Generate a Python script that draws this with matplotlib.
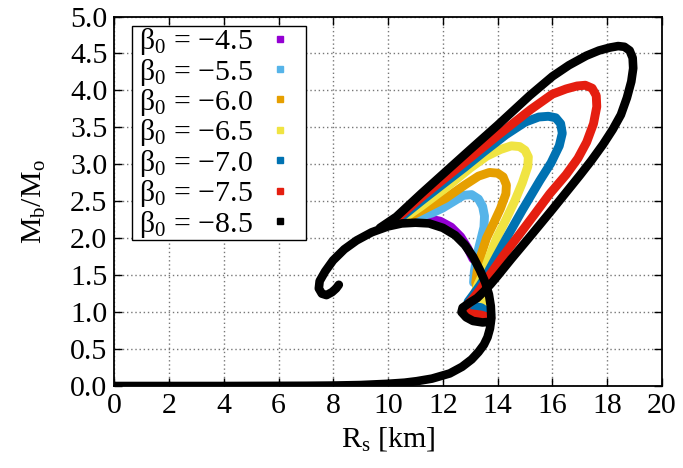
import matplotlib
matplotlib.use("Agg")
import matplotlib.pyplot as plt
from matplotlib.lines import Line2D

plt.rcParams['font.family'] = ['Liberation Serif', 'DejaVu Serif']
plt.rcParams['mathtext.fontset'] = 'custom'
plt.rcParams['mathtext.rm'] = 'Liberation Serif'
plt.rcParams['mathtext.it'] = 'Liberation Serif:italic'
FS = 21.5
plt.rcParams['font.size'] = FS

# ---- data ----
labels = [" β$_0$ = −4.5", " β$_0$ = −5.5", " β$_0$ = −6.0", " β$_0$ = −6.5",
          " β$_0$ = −7.0", " β$_0$ = −7.5", " β$_0$ = −8.5"]
colors = ["#9400d3", "#56b4e9", "#e69f00", "#f0e442", "#0072b2", "#e51e10", "#000000"]

# GR branch (shared by all, drawn with the last series)
gr_R = [0.0, 4.0, 7.0, 8.0, 9.0, 10.0, 10.6, 11.04, 11.6, 12.25, 12.7, 13.05, 13.3,
        13.5, 13.63, 13.72, 13.77, 13.75, 13.68, 13.55, 13.35, 13.1, 12.8, 12.45,
        12.0, 11.5, 11.0, 10.5, 10.0, 9.4, 8.85, 8.4, 7.99, 7.7, 7.5, 7.47, 7.58,
        7.75, 7.95, 8.1, 8.2]
gr_M = [0.0, 0.0, 0.003, 0.006, 0.013, 0.03, 0.045, 0.065, 0.10, 0.17, 0.26, 0.36,
        0.46, 0.56, 0.66, 0.78, 0.92, 1.08, 1.24, 1.40, 1.57, 1.75, 1.91, 2.04,
        2.14, 2.20, 2.21, 2.20, 2.16, 2.08, 1.97, 1.85, 1.70, 1.55, 1.42, 1.32,
        1.25, 1.23, 1.27, 1.32, 1.37]

# scalarized branches
R_45 = [10.9, 11.4, 11.9, 12.3, 12.65, 12.9, 13.1]
M_45 = [2.25, 2.27, 2.23, 2.15, 2.02, 1.87, 1.72]

R_55 = [13.12, 13.15, 13.25, 13.4, 13.5, 13.52, 13.45, 13.3, 13.05, 12.75, 12.4,
        12.0, 11.6, 11.0, 10.4]
M_55 = [1.40, 1.55, 1.78, 2.00, 2.15, 2.30, 2.43, 2.53, 2.59, 2.58, 2.50,
        2.41, 2.34, 2.28, 2.22]

R_60 = [13.25, 13.2, 13.25, 13.4, 13.59, 13.85, 14.1, 14.3, 14.32, 14.2, 14.0,
        13.7, 13.3, 12.8, 12.1, 11.2, 10.35]
M_60 = [1.32, 1.40, 1.55, 1.78, 2.00, 2.20, 2.40, 2.60, 2.72, 2.83, 2.88,
        2.89, 2.84, 2.72, 2.54, 2.37, 2.21]

R_65 = [13.72, 13.5, 13.25, 13.17, 13.28, 13.47, 13.7, 13.96, 14.3, 14.62, 14.9,
        15.1, 15.12, 15.0, 14.8, 14.5, 14.1, 13.6, 13.0, 12.1, 11.2, 10.3]
M_65 = [1.02, 1.17, 1.21, 1.26, 1.37, 1.52, 1.75, 2.00, 2.25, 2.50, 2.75,
        2.97, 3.10, 3.19, 3.24, 3.25, 3.20, 3.11, 2.95, 2.68, 2.43, 2.20]

R_70 = [13.75, 13.4, 13.0, 12.92, 13.1, 13.35, 13.59, 13.95, 14.32, 14.9, 15.54,
        15.95, 16.25, 16.36, 16.3, 16.12, 15.85, 15.5, 15.0, 14.3, 13.5, 12.8,
        12.1, 11.2, 10.3]
M_70 = [0.97, 1.06, 1.09, 1.14, 1.23, 1.36, 1.50, 1.75, 2.00, 2.38, 2.78,
        3.02, 3.25, 3.42, 3.55, 3.63, 3.65, 3.64, 3.57, 3.40, 3.17, 2.96,
        2.76, 2.50, 2.23]

R_75 = [13.75, 13.4, 13.0, 12.8, 12.82, 13.05, 13.35, 13.71, 14.2, 14.69, 15.3,
        15.9, 16.5, 16.93, 17.25, 17.5, 17.62, 17.6, 17.45, 17.2, 16.9, 16.5,
        16.0, 15.2, 14.0, 13.0, 12.1, 11.2, 10.3]
M_75 = [0.92, 0.96, 0.98, 1.01, 1.07, 1.16, 1.30, 1.50, 1.76, 2.00, 2.30,
        2.60, 2.86, 3.08, 3.30, 3.55, 3.78, 3.93, 4.03, 4.07, 4.06, 4.02,
        3.95, 3.74, 3.39, 3.09, 2.82, 2.55, 2.26]

R_85 = [13.75, 13.45, 13.1, 12.85, 12.68, 12.72, 12.95, 13.25, 13.5, 13.75, 14.02,
        14.5, 15.11, 15.6, 16.0, 16.5, 17.0, 17.42, 17.85, 18.2, 18.5, 18.72,
        18.88, 18.95, 18.93, 18.82, 18.63, 18.4, 18.1, 17.7, 17.24, 16.6, 16.0,
        15.17, 14.0, 13.0, 12.1, 11.2, 10.3, 9.7]
M_85 = [0.87, 0.86, 0.88, 0.93, 1.00, 1.06, 1.12, 1.19, 1.28, 1.38, 1.50,
        1.72, 1.99, 2.21, 2.39, 2.62, 2.85, 3.05, 3.27, 3.47, 3.67, 3.90,
        4.12, 4.30, 4.44, 4.54, 4.59, 4.60, 4.58, 4.54, 4.47, 4.34, 4.19,
        3.93, 3.53, 3.20, 2.90, 2.60, 2.29, 2.14]

series_R = [R_45, R_55, R_60, R_65, R_70, R_75, R_85]
series_M = [M_45, M_55, M_60, M_65, M_70, M_75, M_85]

x_ticks = list(range(0, 21, 2))
y_ticks = [0.0, 0.5, 1.0, 1.5, 2.0, 2.5, 3.0, 3.5, 4.0, 4.5, 5.0]

# ---- figure ----
fig = plt.figure(figsize=(6.83, 4.68), dpi=100)
ax = fig.add_axes([0.1673, 0.1752, 0.8019, 0.7895])

for i, (R, M, c) in enumerate(zip(series_R, series_M, colors)):
    lw = 6.2 if i == len(colors) - 1 else 6.4
    ax.plot(R, M, color=c, lw=lw, solid_capstyle='round', solid_joinstyle='round',
            zorder=2 + i)
ax.plot(gr_R, gr_M, color=colors[-1], lw=6.2, solid_capstyle='round',
        solid_joinstyle='round', zorder=20)

ax.set_xlim(0, 20)
ax.set_ylim(0, 5)
ax.set_xticks(x_ticks)
ax.set_yticks(y_ticks)
ax.set_yticklabels([f"{v:.1f}" for v in y_ticks])
ax.tick_params(direction='in', length=6, width=1, top=True, right=True,
               labelsize=FS, pad=5)
ax.grid(True, color='#777777', linestyle=(0, (1, 2)), linewidth=1)
ax.set_axisbelow(True)
for s in ax.spines.values():
    s.set_linewidth(1.3)

ax.set_xlabel("R$_{\\rm s}$ [km]", fontsize=FS, labelpad=4)
ax.set_ylabel("M$_{\\rm b}$/M$_{\\rm o}$", fontsize=FS, labelpad=16)

handles = [Line2D([], [], color=c, marker='s', linestyle='none', markersize=5)
           for c in colors]
leg = ax.legend(handles, labels, loc='upper left', bbox_to_anchor=(0.032, 0.974),
                borderaxespad=0, markerfirst=False, frameon=True, fancybox=False,
                edgecolor='black', framealpha=1, fontsize=FS, handlelength=1.8,
                handletextpad=0.0, labelspacing=-0.02, borderpad=0.0)
leg.get_frame().set_linewidth(1.0)
leg.set_zorder(30)

fig.savefig("out.png", dpi=100)
